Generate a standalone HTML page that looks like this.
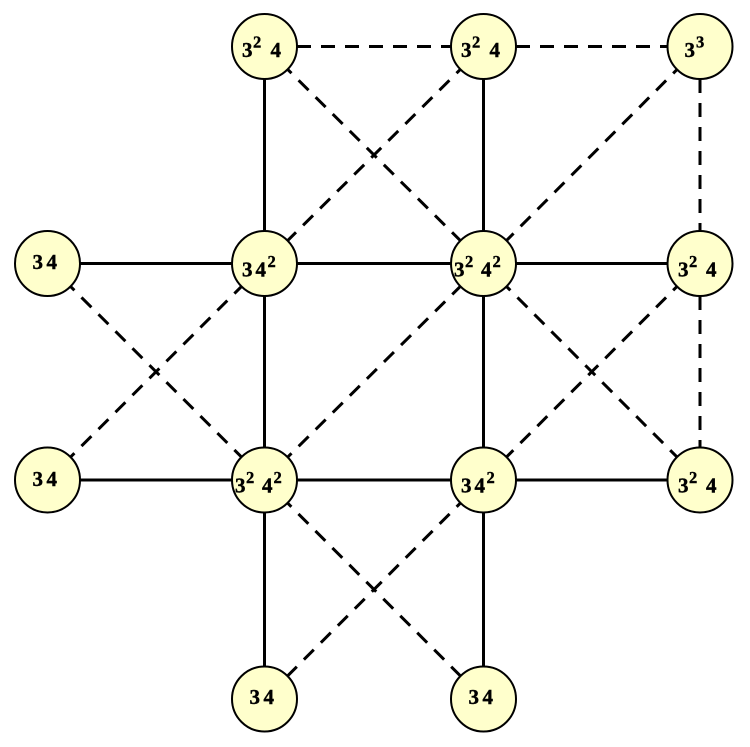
<!DOCTYPE html>
<html><head><meta charset="utf-8"><style>
html,body{margin:0;padding:0;background:#fff;}
svg{display:block;}
</style></head><body>
<svg width="750" height="747" viewBox="0 0 750 747" xmlns="http://www.w3.org/2000/svg">
<g stroke="#000" stroke-width="3" fill="none">
<line x1="264.5" y1="46.5" x2="264.5" y2="263.5"/>
<line x1="483.5" y1="46.5" x2="483.5" y2="263.5"/>
<line x1="47.5" y1="263.5" x2="700" y2="263.5"/>
<line x1="264.5" y1="263.5" x2="264.5" y2="480"/>
<line x1="483.5" y1="263.5" x2="483.5" y2="480"/>
<line x1="47.5" y1="480" x2="700" y2="480"/>
<line x1="264.5" y1="480" x2="264.5" y2="699"/>
<line x1="483.5" y1="480" x2="483.5" y2="699"/>
</g>
<g stroke="#000" stroke-width="3" fill="none" stroke-dasharray="14 10">
<line x1="297" y1="46.5" x2="451" y2="46.5"/>
<line x1="516" y1="46.5" x2="668" y2="46.5"/>
<line x1="700" y1="79" x2="700" y2="231"/>
<line x1="700" y1="296" x2="700" y2="448"/>
<line x1="264.5" y1="46.5" x2="483.5" y2="263.5"/>
<line x1="483.5" y1="46.5" x2="264.5" y2="263.5"/>
<line x1="700" y1="46.5" x2="483.5" y2="263.5"/>
<line x1="47.5" y1="263.5" x2="264.5" y2="480"/>
<line x1="47.5" y1="480" x2="264.5" y2="263.5"/>
<line x1="264.5" y1="480" x2="483.5" y2="263.5"/>
<line x1="483.5" y1="263.5" x2="700" y2="480"/>
<line x1="700" y1="263.5" x2="483.5" y2="480"/>
<line x1="264.5" y1="480" x2="483.5" y2="699"/>
<line x1="483.5" y1="480" x2="264.5" y2="699"/>
</g>
<g fill="#ffffcc" stroke="#000" stroke-width="2">
<circle cx="264.5" cy="46.5" r="32.5"/>
<circle cx="483.5" cy="46.5" r="32.5"/>
<circle cx="700" cy="46.5" r="32.5"/>
<circle cx="47.5" cy="263.5" r="32.5"/>
<circle cx="264.5" cy="263.5" r="32.5"/>
<circle cx="483.5" cy="263.5" r="32.5"/>
<circle cx="700" cy="263.5" r="32.5"/>
<circle cx="47.5" cy="480" r="32.5"/>
<circle cx="264.5" cy="480" r="32.5"/>
<circle cx="483.5" cy="480" r="32.5"/>
<circle cx="700" cy="480" r="32.5"/>
<circle cx="264.5" cy="699" r="32.5"/>
<circle cx="483.5" cy="699" r="32.5"/>
</g>
<g font-family="Liberation Serif, serif" font-weight="bold" fill="#000" stroke="#000" stroke-width="0.4">
<g font-size="21">
<text x="242" y="57">3</text><text x="270.5" y="57">4</text>
<text x="461" y="57">3</text><text x="489.5" y="57">4</text>
<text x="684.5" y="57">3</text>
<text x="32.5" y="269">3</text><text x="46.5" y="269">4</text>
<text x="242" y="276.5">3</text><text x="255.5" y="276.5">4</text>
<text x="454" y="276.5">3</text><text x="481" y="276.5">4</text>
<text x="678" y="276.5">3</text><text x="706" y="276.5">4</text>
<text x="32.5" y="486">3</text><text x="46.5" y="486">4</text>
<text x="235" y="492.5">3</text><text x="262" y="492.5">4</text>
<text x="461" y="492.5">3</text><text x="474.5" y="492.5">4</text>
<text x="678" y="492.5">3</text><text x="706" y="492.5">4</text>
<text x="249.5" y="704">3</text><text x="263.5" y="704">4</text>
<text x="468.5" y="704">3</text><text x="482.5" y="704">4</text>
</g>
<g font-size="16.5">
<text x="253" y="47.5">2</text>
<text x="472" y="47.5">2</text>
<text x="696" y="47.5">3</text>
<text x="267.5" y="267">2</text>
<text x="465" y="267">2</text><text x="492.5" y="267">2</text>
<text x="689" y="267">2</text>
<text x="246" y="483">2</text><text x="273.5" y="483">2</text>
<text x="486.5" y="483">2</text>
<text x="689" y="483">2</text>
</g>
</g>
</svg>
</body></html>
